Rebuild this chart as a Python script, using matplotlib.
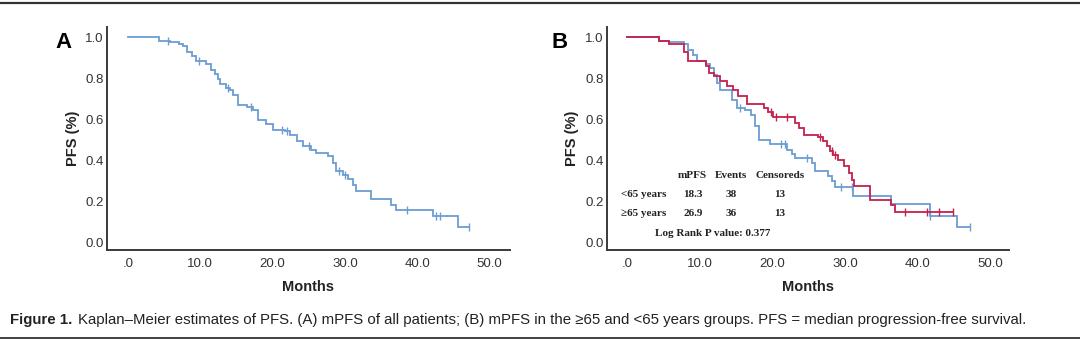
import numpy as np
import matplotlib
matplotlib.use("Agg")
import matplotlib.pyplot as plt
from matplotlib.lines import Line2D
from matplotlib import font_manager

# ---------------- data ----------------
# Panel A: all patients (step times, survival after step)
a_t = [4.3, 5.8, 7.1, 7.6, 8.2, 8.8, 9.4, 10.8, 11.5, 12.0, 12.4, 12.7, 13.5, 14.1, 14.5,
       15.2, 16.4, 17.3, 18.0, 19.1, 20.0, 21.7, 22.4, 23.3, 24.2, 25.3, 26.0, 27.6, 28.3,
       28.8, 29.7, 30.4, 31.1, 31.5, 33.6, 36.4, 37.0, 42.1, 45.6]
a_s = [0.985, 0.976, 0.97, 0.956, 0.93, 0.907, 0.883, 0.87, 0.842, 0.82, 0.795, 0.77, 0.755,
       0.744, 0.72, 0.67, 0.66, 0.647, 0.598, 0.578, 0.549, 0.545, 0.524, 0.492, 0.467, 0.448,
       0.435, 0.42, 0.386, 0.345, 0.329, 0.308, 0.28, 0.248, 0.212, 0.182, 0.158, 0.129, 0.072]
a_end = 47.2
a_cens = [5.5, 9.8, 13.8, 17.0, 21.3, 22.0, 25.0, 29.2, 30.0, 38.5, 42.6, 43.1, 47.2]

# Panel B: >=65 years (red)
r_t = [4.3, 5.7, 7.8, 8.4, 10.8, 11.2, 11.9, 12.8, 13.7, 14.6, 15.3, 16.5, 18.8, 19.4, 20.1,
       23.1, 23.6, 24.3, 26.3, 27.0, 27.5, 27.9, 28.4, 29.1, 29.8, 30.5, 30.9, 31.2, 33.5,
       36.4, 36.9]
r_s = [0.985, 0.967, 0.93, 0.883, 0.858, 0.826, 0.81, 0.785, 0.764, 0.744, 0.712, 0.676,
       0.655, 0.634, 0.611, 0.581, 0.557, 0.524, 0.513, 0.492, 0.467, 0.443, 0.427, 0.402,
       0.37, 0.337, 0.305, 0.272, 0.207, 0.182, 0.147]
r_end = 44.9
r_cens = [19.8, 20.5, 22.0, 26.5, 28.2, 28.6, 38.2, 41.3, 42.9, 44.9]

# Panel B: <65 years (blue)
b_t = [4.3, 5.7, 7.8, 8.4, 9.1, 9.6, 10.8, 11.4, 11.9, 12.3, 12.8, 14.4, 15.1, 16.2, 17.1,
       17.6, 18.1, 19.7, 22.0, 22.7, 23.1, 25.4, 25.9, 27.6, 28.2, 28.6, 31.1, 36.4, 41.7, 45.4]
b_s = [0.985, 0.98, 0.967, 0.94, 0.915, 0.883, 0.87, 0.85, 0.818, 0.777, 0.744, 0.695, 0.655,
       0.647, 0.622, 0.565, 0.5, 0.48, 0.451, 0.432, 0.41, 0.386, 0.345, 0.324, 0.296, 0.269,
       0.223, 0.187, 0.125, 0.072]
b_end = 47.2
b_cens = [15.5, 21.2, 21.7, 24.8, 29.5, 31.0, 41.7, 47.2]

x_ticks = [0, 10, 20, 30, 40, 50]
x_ticklabels = [".0", "10.0", "20.0", "30.0", "40.0", "50.0"]
y_ticks = [0.0, 0.2, 0.4, 0.6, 0.8, 1.0]
y_ticklabels = ["0.0", "0.2", "0.4", "0.6", "0.8", "1.0"]

tbl_header = ["mPFS", "Events", "Censoreds"]
tbl_groups = ["<65 years", "\u226565 years"]
tbl_mpfs = ["18.3", "26.9"]
tbl_events = ["38", "36"]
tbl_cens = ["13", "13"]
logrank = "Log Rank P value: 0.377"

caption_bold = "Figure 1."
caption_rest = ("Kaplan\u2013Meier estimates of PFS. (A) mPFS of all patients; (B) mPFS in the "
                "\u226565 and <65 years groups. PFS = median progression-free survival.")

# ---------------- style ----------------
BLUE = "#6b9dd2"
RED = "#c4204c"
AXC = "#3a3a3a"
TXT = "#333333"
SANS = "Liberation Sans"
SERIF = "Liberation Serif"

W, H = 1080, 341
fig = plt.figure(figsize=(W / 100, H / 100), dpi=100)


def fx(px):
    return px / W


def fy(py):
    return 1 - py / H


def km(ax, t, s, end, cens, color):
    xs = [0.0] + list(t) + [end]
    ys = [1.0] + list(s) + [s[-1]]
    ax.step(xs, ys, where="post", color=color, lw=1.3, solid_joinstyle="miter")
    tt = np.asarray([0.0] + list(t))
    ss = np.asarray([1.0] + list(s))
    c = np.asarray(cens)
    idx = np.searchsorted(tt, c, side="right") - 1
    ax.plot(c, ss[idx], ls="none", marker="|", ms=6, mew=1.0, color=color)


def style_axes(ax, xlim):
    ax.set_xlim(*xlim)
    ax.set_ylim(-0.039, 1.051)
    for side in ("top", "right"):
        ax.spines[side].set_visible(False)
    for side in ("left", "bottom"):
        ax.spines[side].set_color(AXC)
        ax.spines[side].set_linewidth(1.4)
    ax.set_xticks(x_ticks)
    ax.set_xticklabels(x_ticklabels, fontsize=9.5, family=SANS, color=TXT)
    ax.set_yticks(y_ticks)
    ax.set_yticklabels(y_ticklabels, fontsize=9.5, family=SANS, color=TXT)
    ax.tick_params(axis="both", length=0)
    ax.tick_params(axis="x", pad=6)
    ax.tick_params(axis="y", pad=2.5)
    ax.set_facecolor("none")


# Panel A
axA = fig.add_axes([fx(107), fy(250), fx(510) - fx(107), fy(27) - fy(250)])
style_axes(axA, (-2.9, 52.8))
km(axA, a_t, a_s, a_end, a_cens, BLUE)

# Panel B
axB = fig.add_axes([fx(607), fy(250), fx(1009) - fx(607), fy(27) - fy(250)])
style_axes(axB, (-2.8, 52.6))
km(axB, b_t, b_s, b_end, b_cens, BLUE)
km(axB, r_t, r_s, r_end, r_cens, RED)

# axis labels and panel letters
for cx, ly, letter, lx in [(308, 73, "A", 63), (808, 572, "B", 560)]:
    fig.text(fx(cx), fy(287), "Months", ha="center", va="center", fontsize=10.5,
             fontweight="bold", family=SANS, color="#222222")
    fig.text(fx(ly), fy(138), "PFS (%)", ha="center", va="center", rotation=90,
             fontsize=10.5, fontweight="bold", family=SANS, color="#222222")
    fig.text(fx(lx), fy(42), letter, ha="center", va="center", fontsize=16,
             fontweight="bold", family=SANS, color="black")

# table in panel B
tkw = dict(fontsize=8, fontweight="bold", family=[SERIF, "DejaVu Serif"], color="#222222",
           va="center")
for xh, h in zip([678, 715, 755], tbl_header):
    fig.text(fx(xh), fy(175), h, ha="left", **tkw)
for yy, g, m, e, c in zip([194, 213], tbl_groups, tbl_mpfs, tbl_events, tbl_cens):
    fig.text(fx(621), fy(yy), g, ha="left", **tkw)
    fig.text(fx(683), fy(yy), m, ha="left", **tkw)
    fig.text(fx(731), fy(yy), e, ha="center", **tkw)
    fig.text(fx(780), fy(yy), c, ha="center", **tkw)
fig.text(fx(655), fy(233), logrank, ha="left", **tkw)

# rules
fig.add_artist(Line2D([0, 1], [fy(3), fy(3)], transform=fig.transFigure, color="#333333", lw=1.6))
fig.add_artist(Line2D([0, 1], [fy(337.5), fy(337.5)], transform=fig.transFigure, color="#333333", lw=1.3))

# caption
names = {f.name for f in font_manager.fontManager.ttflist}
capfam = "Liberation Sans Narrow" if "Liberation Sans Narrow" in names else SANS
fs = 8.5
t1 = fig.text(fx(10), fy(320), caption_bold, ha="left", va="center", fontsize=fs,
              fontweight="bold", family=capfam, color="#222222")
t2 = fig.text(0, fy(320), caption_rest, ha="left", va="center", fontsize=fs,
              family=capfam, color="#222222")
renderer = fig.canvas.get_renderer()
for _ in range(3):
    b1 = t1.get_window_extent(renderer)
    t2.set_x(fx(b1.x1 + 6))
    b2 = t2.get_window_extent(renderer)
    total = b2.x1 - b1.x0
    fs = fs * (1030 - 10) / total
    t1.set_fontsize(fs)
    t2.set_fontsize(fs)
b1 = t1.get_window_extent(renderer)
t2.set_x(fx(b1.x1 + 6))

fig.savefig("out.png", dpi=100, facecolor="white")
